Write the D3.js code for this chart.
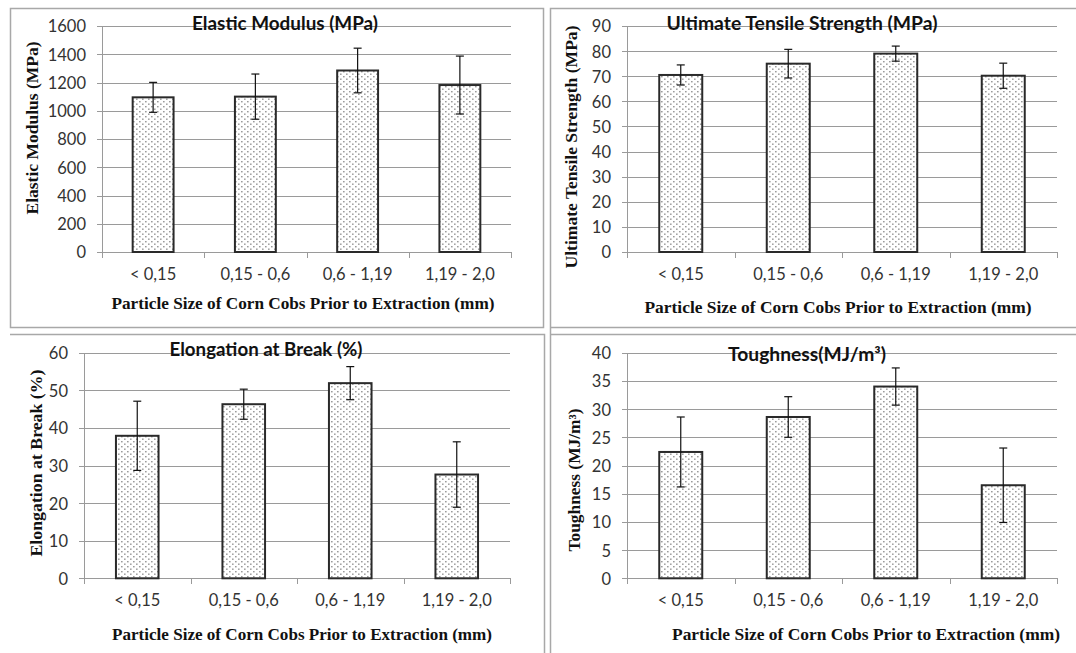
<!DOCTYPE html>
<html>
<head>
<meta charset="utf-8">
<script src="https://cdn.jsdelivr.net/npm/d3@7"></script>
<style>
  html, body { margin: 0; padding: 0; background: #fff; }
  svg { display: block; }
</style>
</head>
<body>
<svg id="chart" width="1076" height="653"></svg>
<script>
// ---------- DATA ----------
const categories = ["< 0,15", "0,15 - 0,6", "0,6 - 1,19", "1,19 - 2,0"];

const elasticModulus = [1095, 1100, 1285, 1182];
const elasticModulusErr = [106, 160, 158, 205];
const elasticTicks = [0, 200, 400, 600, 800, 1000, 1200, 1400, 1600];

const tensileStrength = [70.5, 75, 79, 70.2];
const tensileStrengthErr = [4, 5.7, 3, 5];
const tensileTicks = [0, 10, 20, 30, 40, 50, 60, 70, 80, 90];

const elongation = [37.9, 46.3, 51.9, 27.6];
const elongationErr = [9.2, 4, 4.4, 8.7];
const elongationTicks = [0, 10, 20, 30, 40, 50, 60];

const toughness = [22.4, 28.6, 34, 16.5];
const toughnessErr = [6.2, 3.6, 3.3, 6.6];
const toughnessTicks = [0, 5, 10, 15, 20, 25, 30, 35, 40];

const xTitle = "Particle Size of Corn Cobs Prior to Extraction (mm)";

// ---------- LAYOUT ----------
const svg = d3.select("#chart");
const defs = svg.append("defs");
const pat = defs.append("pattern").attr("id", "dots")
  .attr("patternUnits", "userSpaceOnUse").attr("width", 6).attr("height", 5);
pat.append("rect").attr("width", 6).attr("height", 5).attr("fill", "#fff");
pat.append("rect").attr("x", 1).attr("y", 1).attr("width", 1.6).attr("height", 1.4).attr("fill", "#9a9a9a");
pat.append("rect").attr("x", 4).attr("y", 3.5).attr("width", 1.6).attr("height", 1.4).attr("fill", "#9a9a9a");

// Panel borders
const borderColor = "#a8a8a8";
svg.append("rect").attr("x", 10.5).attr("y", 8.5).attr("width", 533).attr("height", 319)
  .attr("fill", "none").attr("stroke", borderColor).attr("stroke-width", 1.5);
svg.append("path").attr("d", "M550.5,660 V8.5 H1080").attr("fill", "none").attr("stroke", borderColor).attr("stroke-width", 1.5);
svg.append("path").attr("d", "M550.5,327.5 H1080").attr("fill", "none").attr("stroke", borderColor).attr("stroke-width", 1.5);
svg.append("path").attr("d", "M10,334.5 H544.5 V660").attr("fill", "none").attr("stroke", borderColor).attr("stroke-width", 1.5);
svg.append("path").attr("d", "M550.5,334.5 H1080").attr("fill", "none").attr("stroke", borderColor).attr("stroke-width", 1.5);

const panels = [
  { values: elasticModulus, errs: elasticModulusErr, ticks: elasticTicks,
    title: "Elastic Modulus (MPa)", titleX: 285, titleY: 30, titleW: 186,
    yLabel: "Elastic Modulus (MPa)", yLabelX: 33, yLabelY: 128, yLabelW: 173,
    left: 102, right: 511, top: 26, bottom: 252,
    xTitleX: 303, xTitleY: 309, xTitleW: 383 },
  { values: tensileStrength, errs: tensileStrengthErr, ticks: tensileTicks,
    title: "Ultimate Tensile Strength (MPa)", titleX: 802, titleY: 30, titleW: 271,
    yLabel: "Ultimate Tensile Strength (MPa)", yLabelX: 572, yLabelY: 147, yLabelW: 243,
    left: 627, right: 1057, top: 26, bottom: 252,
    xTitleX: 838, xTitleY: 313, xTitleW: 387 },
  { values: elongation, errs: elongationErr, ticks: elongationTicks,
    title: "Elongation at Break (%)", titleX: 266, titleY: 356, titleW: 193,
    yLabel: "Elongation at Break (%)", yLabelX: 37, yLabelY: 463, yLabelW: 187,
    left: 84, right: 510, top: 352.7, bottom: 578.3,
    xTitleX: 302, xTitleY: 640, xTitleW: 380 },
  { values: toughness, errs: toughnessErr, ticks: toughnessTicks,
    title: "Toughness(MJ/m³)", titleX: 807, titleY: 361, titleW: 158,
    yLabel: "Toughness (MJ/m³)", yLabelX: 575, yLabelY: 480, yLabelW: 143,
    left: 627, right: 1057, top: 352.7, bottom: 578.3,
    xTitleX: 866, xTitleY: 640, xTitleW: 388 }
];

const tickFont = "Lato, 'Liberation Sans', sans-serif";
const serifFont = "'Liberation Serif', 'DejaVu Serif', serif";

panels.forEach(p => {
  const g = svg.append("g");
  const maxV = p.ticks[p.ticks.length - 1];
  const y = d3.scaleLinear().domain([0, maxV]).range([p.bottom, p.top]);
  const x = d3.scaleBand().domain(categories).range([p.left, p.right])
    .paddingInner(0.6).paddingOuter(0.3);
  const xEdges = d3.scalePoint().domain(d3.range(categories.length + 1)).range([p.left, p.right]);

  // gridlines + y axis
  const yAxis = d3.axisLeft(y).tickValues(p.ticks).tickFormat(d3.format("d"))
    .tickSize(-(p.right - p.left) - 5).tickPadding(11);
  const ya = g.append("g").attr("transform", `translate(${p.left - 5},0)`).call(yAxis);
  ya.select(".domain").remove();
  ya.selectAll(".tick line").attr("stroke", "#9a9a9a").attr("stroke-width", 1).attr("shape-rendering", "crispEdges");
  ya.selectAll(".tick text").attr("fill", "#333").style("font-family", tickFont).style("font-size", "16.5px")
    .attr("dy", "0.36em");
  // y axis line
  g.append("line").attr("x1", p.left).attr("x2", p.left).attr("y1", p.top).attr("y2", p.bottom)
    .attr("stroke", "#9a9a9a").attr("shape-rendering", "crispEdges");

  // x axis
  const xa = g.append("g").attr("transform", `translate(0,${p.bottom})`)
    .call(d3.axisBottom(xEdges).tickSize(6).tickFormat(""));
  xa.select(".domain").attr("stroke", "#9a9a9a").attr("shape-rendering", "crispEdges");
  xa.selectAll(".tick line").attr("stroke", "#9a9a9a").attr("shape-rendering", "crispEdges");
  const xl = g.append("g").attr("transform", `translate(0,${p.bottom})`)
    .call(d3.axisBottom(x).tickSize(0).tickPadding(16));
  xl.select(".domain").remove();
  xl.selectAll(".tick text").attr("fill", "#333").style("font-family", tickFont).style("font-size", "16.5px");

  // bars
  g.selectAll("rect.bar").data(p.values).join("rect").attr("class", "bar")
    .attr("x", (d, i) => x(categories[i]))
    .attr("y", d => y(d))
    .attr("width", x.bandwidth())
    .attr("height", d => p.bottom - y(d))
    .attr("fill", "url(#dots)")
    .attr("stroke", "#2a2a2a").attr("stroke-width", 2);

  // error bars
  const eb = g.selectAll("g.err").data(p.values).join("g").attr("class", "err")
    .attr("transform", (d, i) => `translate(${x(categories[i]) + x.bandwidth() / 2},0)`);
  eb.append("line").attr("y1", (d, i) => y(d + p.errs[i])).attr("y2", (d, i) => y(d - p.errs[i]))
    .attr("stroke", "#111").attr("stroke-width", 1.2);
  eb.append("line").attr("x1", -4).attr("x2", 4).attr("y1", (d, i) => y(d + p.errs[i])).attr("y2", (d, i) => y(d + p.errs[i]))
    .attr("stroke", "#111").attr("stroke-width", 1.2);
  eb.append("line").attr("x1", -4).attr("x2", 4).attr("y1", (d, i) => y(d - p.errs[i])).attr("y2", (d, i) => y(d - p.errs[i]))
    .attr("stroke", "#111").attr("stroke-width", 1.2);

  // title
  g.append("text").attr("x", p.titleX).attr("y", p.titleY).attr("text-anchor", "middle")
    .style("font-family", tickFont).style("font-weight", "bold").style("font-size", "18px")
    .attr("fill", "#111").attr("textLength", p.titleW).attr("lengthAdjust", "spacingAndGlyphs")
    .text(p.title);

  // y label
  g.append("text").attr("transform", `translate(${p.yLabelX + 5},${p.yLabelY}) rotate(-90)`)
    .attr("text-anchor", "middle")
    .style("font-family", serifFont).style("font-weight", "bold").style("font-size", "16.5px")
    .attr("fill", "#111").attr("textLength", p.yLabelW).attr("lengthAdjust", "spacingAndGlyphs")
    .text(p.yLabel);

  // x title
  g.append("text").attr("x", p.xTitleX).attr("y", p.xTitleY).attr("text-anchor", "middle")
    .style("font-family", serifFont).style("font-weight", "bold").style("font-size", "17px")
    .attr("fill", "#111").attr("textLength", p.xTitleW).attr("lengthAdjust", "spacingAndGlyphs")
    .text(xTitle);
});
</script>
</body>
</html>
